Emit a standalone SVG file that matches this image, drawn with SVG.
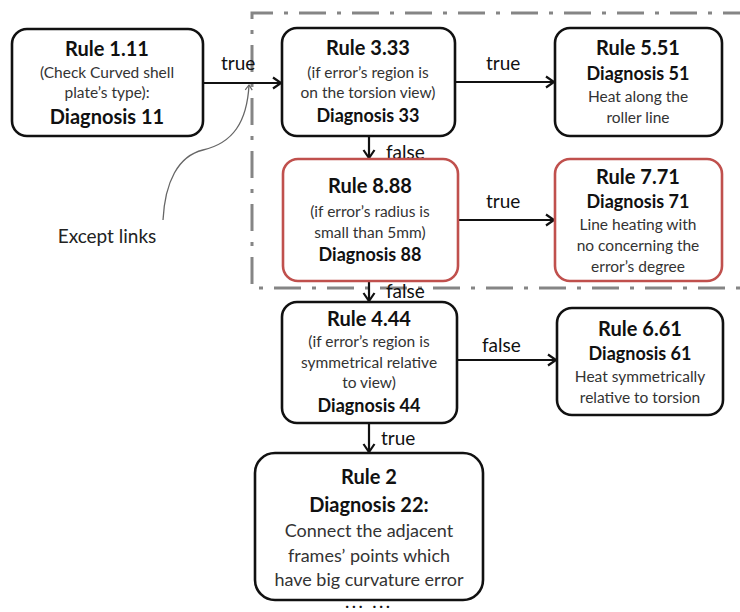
<svg xmlns="http://www.w3.org/2000/svg" width="740" height="612" viewBox="0 0 740 612">
  <defs>
    <marker id="arrow" markerUnits="userSpaceOnUse" markerWidth="14" markerHeight="14" viewBox="0 0 14 14" refX="12" refY="7" orient="auto">
      <path d="M4,1.5 L12,7 L4,12.5" fill="none" stroke="#111" stroke-width="2.2" stroke-linejoin="miter"/>
    </marker>
    <marker id="thin" markerUnits="userSpaceOnUse" markerWidth="10" markerHeight="10" viewBox="0 0 10 10" refX="8" refY="5" orient="auto">
      <path d="M3,1.5 L8,5 L3,8.5" fill="none" stroke="#666" stroke-width="1.2"/>
    </marker>
    <style>
      .box { fill: #fff; stroke: #111; stroke-width: 2.6; }
      .red { stroke: #c0504d; }
      text { font-family: Lato, "Open Sans", "Liberation Sans", sans-serif; text-anchor: middle; }
      .t { font-size: 20px; font-weight: bold; fill: #111; }
      .d { font-size: 18px; font-weight: bold; fill: #111; }
      .s { font-size: 15.5px; fill: #333; }
      .lab { font-size: 19px; fill: #111; text-anchor: start; }
      .edge { stroke: #111; stroke-width: 2.2; fill: none; marker-end: url(#arrow); }
    </style>
  </defs>
  <rect width="740" height="612" fill="#fff"/>

  <!-- dash-dot boundary around the exception rules -->
  <path d="M750,13 H252 V288 H750" fill="none" stroke="#858585" stroke-width="3" stroke-dasharray="27 11 4 11"/>

  <!-- connectors -->
  <g id="connectors">
    <line class="edge" x1="204" y1="83" x2="281" y2="83"/>
    <line class="edge" x1="455" y1="82" x2="554" y2="82"/>
    <line class="edge" x1="369" y1="137" x2="369" y2="158"/>
    <line class="edge" x1="458" y1="220" x2="554" y2="220"/>
    <line class="edge" x1="369" y1="281" x2="369" y2="301"/>
    <line class="edge" x1="457" y1="360" x2="556" y2="360"/>
    <line class="edge" x1="369" y1="423" x2="369" y2="452"/>
    <text class="lab" x="221" y="70">true</text>
    <text class="lab" x="486" y="70">true</text>
    <text class="lab" x="386" y="159">false</text>
    <text class="lab" x="486" y="208">true</text>
    <text class="lab" x="386" y="298">false</text>
    <text class="lab" x="482" y="352">false</text>
    <text class="lab" x="381" y="445">true</text>
    <!-- annotation -->
    <path d="M163,220 C165,182 178,156 203,150 C233,143 247,122 249,85" fill="none" stroke="#666" stroke-width="1.3" marker-end="url(#thin)"/>
    <text x="107" y="243" style="font-size:19px; fill:#222;">Except links</text>
  </g>

  <g id="rule-1-11">
    <rect class="box" x="12" y="29" width="191" height="107" rx="15"/>
    <text class="t" x="107" y="56">Rule 1.11</text>
    <text class="s" x="107" y="78">(Check Curved shell</text>
    <text class="s" x="107" y="98">plate’s type):</text>
    <text class="t" x="107" y="124">Diagnosis 11</text>
  </g>

  <g id="rule-3-33">
    <rect class="box" x="282" y="28" width="173" height="108" rx="15"/>
    <text class="t" x="368" y="55">Rule 3.33</text>
    <text class="s" x="368" y="78">(if error’s region is</text>
    <text class="s" x="368" y="98">on the torsion view)</text>
    <text class="d" x="368" y="122">Diagnosis 33</text>
  </g>

  <g id="rule-5-51">
    <rect class="box" x="555" y="28" width="167" height="108" rx="15"/>
    <text class="t" x="638" y="55">Rule 5.51</text>
    <text class="d" x="638" y="80">Diagnosis 51</text>
    <text class="s" x="638" y="102">Heat along the</text>
    <text class="s" x="638" y="123">roller line</text>
  </g>

  <g id="rule-8-88">
    <rect class="box red" x="283" y="159" width="175" height="122" rx="15"/>
    <text class="t" x="370" y="193">Rule 8.88</text>
    <text class="s" x="370" y="217">(if error’s radius is</text>
    <text class="s" x="370" y="238">small than 5mm)</text>
    <text class="d" x="370" y="261">Diagnosis 88</text>
  </g>

  <g id="rule-7-71">
    <rect class="box red" x="555" y="159" width="167" height="122" rx="15"/>
    <text class="t" x="638" y="184">Rule 7.71</text>
    <text class="d" x="638" y="208">Diagnosis 71</text>
    <text class="s" x="638" y="230">Line heating with</text>
    <text class="s" x="638" y="251">no concerning the</text>
    <text class="s" x="638" y="272">error’s degree</text>
  </g>

  <g id="rule-4-44">
    <rect class="box" x="282" y="302" width="175" height="121" rx="15"/>
    <text class="t" x="369" y="326">Rule 4.44</text>
    <text class="s" x="369" y="347">(if error’s region is</text>
    <text class="s" x="369" y="368">symmetrical relative</text>
    <text class="s" x="369" y="388">to view)</text>
    <text class="d" x="369" y="412">Diagnosis 44</text>
  </g>

  <g id="rule-6-61">
    <rect class="box" x="557" y="308" width="166" height="107" rx="15"/>
    <text class="t" x="640" y="336">Rule 6.61</text>
    <text class="d" x="640" y="360">Diagnosis 61</text>
    <text class="s" x="640" y="382">Heat symmetrically</text>
    <text class="s" x="640" y="403">relative to torsion</text>
  </g>

  <g id="rule-2">
    <rect class="box" x="255" y="453" width="228" height="147" rx="20"/>
    <text class="t" x="369" y="484">Rule 2</text>
    <text class="t" x="369" y="512">Diagnosis 22:</text>
    <text x="369" y="537" style="font-size:18px; fill:#333;">Connect the adjacent</text>
    <text x="369" y="562" style="font-size:18px; fill:#333;">frames’ points which</text>
    <text x="369" y="586" style="font-size:18px; fill:#333;">have big curvature error</text>
  </g>

  <text x="369" y="608" style="font-size:16px; font-weight:bold; fill:#111; letter-spacing:3px;">... ...</text>
</svg>
